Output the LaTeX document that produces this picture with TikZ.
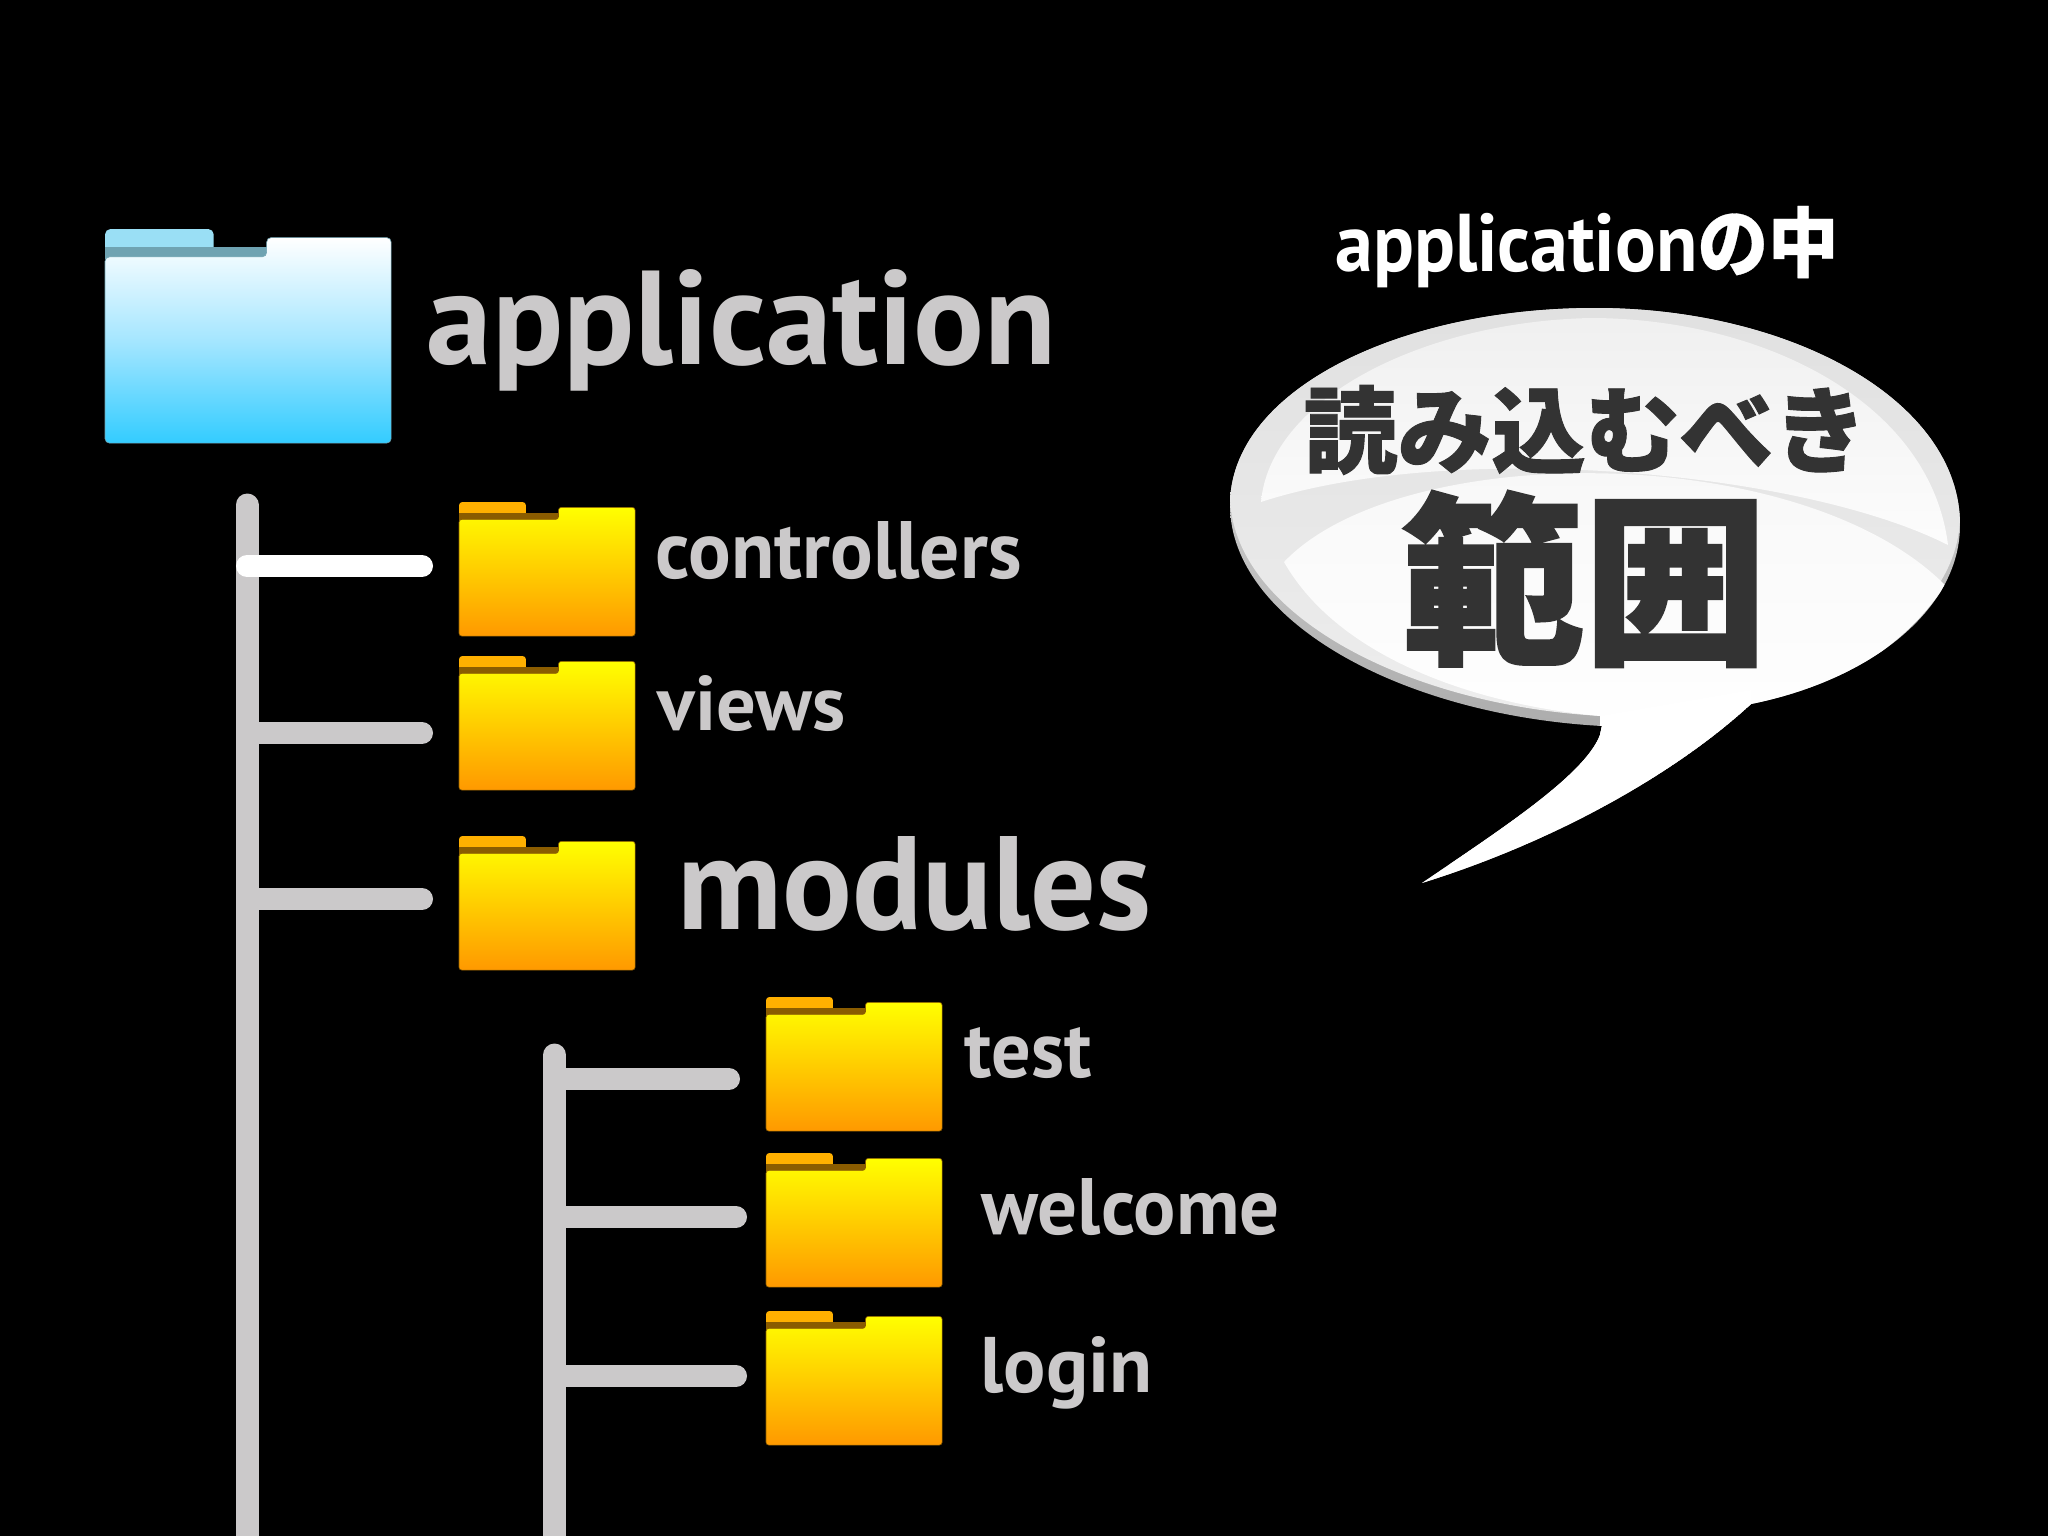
\documentclass[tikz,border=0pt]{standalone}
\usepackage{fontspec}
\usepackage{graphicx}
\setmainfont{PT Sans}
\newfontfamily\jpfont[BoldFeatures={FakeBold=1.0}]{Noto Sans CJK JP}
\newfontfamily\jpheavy[BoldFeatures={FakeBold=1.5}]{Noto Sans CJK JP}
\newfontfamily\jplight[BoldFeatures={FakeBold=0.4}]{Noto Sans CJK JP}
\newlength\px
\setlength\px{0.01cm}

\definecolor{lblgrey}{HTML}{CBC9CA}
\definecolor{bardark}{HTML}{333333}
\definecolor{ytab}{HTML}{FFB000}
\definecolor{ydark}{HTML}{8A5C00}
\definecolor{ytop}{HTML}{FFFF00}
\definecolor{ymid}{HTML}{FFCC00}
\definecolor{ybot}{HTML}{FF9900}
\definecolor{btab}{HTML}{9ADFF5}
\definecolor{bdark}{HTML}{6FA3B2}
\definecolor{btop}{HTML}{FFFFFF}
\definecolor{bmid}{HTML}{A5E6FF}
\definecolor{bbot}{HTML}{33CCFF}

\tikzset{
  lbl/.style={anchor=base west,inner sep=0pt,text=lblgrey,font=\bfseries},
  bartrunk/.style={line width=23\px,draw=lblgrey,line cap=round},
  barbranch/.style={line width=22\px,draw=lblgrey,line cap=round},
  bubbletext/.style={inner sep=0pt,text=bardark},
}

% folder: name, left, top, width, height, colour prefix
\newcommand\folder[6]{%
  \coordinate (#1) at (#2,#3);
  \begin{scope}[shift={(#1)},x={#4*0.28453pt/100},y={-#5*0.28453pt/100}]
    \fill[#6tab,rounded corners={#4*0.0055pt}] (0,13) -- (0,0) -- (38,0) -- (38,13) -- cycle;
    \fill[#6dark] (0,8.5) rectangle (57,14);
    \shadedraw[draw=#6dark,line width=0.6\px,rounded corners={#4*0.0045pt},
      top color=#6top,bottom color=#6bot,middle color=#6mid]
      (0,100) -- (0,13) -- (56.5,13) -- (56.5,4) -- (100,4) -- (100,100) -- cycle;
  \end{scope}
}

\newcommand\bubblepath{(1751,704) .. controls (1870,680) and (1960,610) .. (1960,525)
  .. controls (1960,400) and (1790,308) .. (1595,308)
  .. controls (1400,308) and (1230,390) .. (1230,505)
  .. controls (1230,620) and (1400,715) .. (1602,726)
  -- (1600,735)
  .. controls (1585,775) and (1500,830) .. (1422,883)
  .. controls (1560,840) and (1680,770) .. (1751,704) -- cycle}

\begin{document}
\begin{tikzpicture}[x=0.01cm,y=-0.01cm]

    \clip (0,0) rectangle (2048,1536);
    \fill[black] (0,0) rectangle (2048,1536);

    % the folders
    \folder{application}{105}{229}{286}{214}{b}
    \folder{controllers}{459}{502}{176}{134}{y}
    \folder{views}{459}{656}{176}{134}{y}
    \folder{modules}{459}{836}{176}{134}{y}
    \folder{test}{766}{997}{176}{134}{y}
    \folder{welcome}{766}{1153}{176}{134}{y}
    \folder{login}{766}{1311}{176}{134}{y}

    % the tree
    \coordinate (mainTop) at (247,505);
    \coordinate (mainEnd) at (247,1560);
    \coordinate (subTop) at (554.5,1055);
    \coordinate (subEnd) at (554.5,1560);
    \coordinate (controllersEnd) at (422,566);
    \coordinate (viewsEnd) at (422,733);
    \coordinate (modulesEnd) at (422,899);
    \coordinate (testEnd) at (729,1079);
    \coordinate (welcomeEnd) at (736,1217);
    \coordinate (loginEnd) at (736,1376);

    \draw[bartrunk] (mainTop) -- (mainEnd);
    \draw[bartrunk] (subTop) -- (subEnd);
    \draw[barbranch] (mainTop |- viewsEnd) -- (viewsEnd);
    \draw[barbranch] (mainTop |- modulesEnd) -- (modulesEnd);
    \draw[barbranch] (subTop |- testEnd) -- (testEnd);
    \draw[barbranch] (subTop |- welcomeEnd) -- (welcomeEnd);
    \draw[barbranch] (subTop |- loginEnd) -- (loginEnd);
    \draw[barbranch,draw=white] (mainTop |- controllersEnd) -- (controllersEnd);

    % the labels
    \node[lbl] (applicationLbl) at (426,364) {\resizebox{630\px}{95\px}{application}};
    \node[lbl] (controllersLbl) at (655,578) {\resizebox{366\px}{57\px}{controllers}};
    \node[lbl] (viewsLbl) at (657,730) {\resizebox{188\px}{55\px}{views}};
    \node[lbl] (modulesLbl) at (677,929) {\resizebox{474\px}{93\px}{modules}};
    \node[lbl] (testLbl) at (964,1077) {\resizebox{127\px}{50\px}{test}};
    \node[lbl] (welcomeLbl) at (981,1234) {\resizebox{298\px}{56\px}{welcome}};
    \node[lbl] (loginLbl) at (980,1392) {\resizebox{172\px}{56\px}{login}};

    % the balloon
    \shade[top color=black!12,bottom color=black!40] \bubblepath;
    \begin{scope}
      \clip \bubblepath;
      \shade[yshift=10\px,top color=black!12,bottom color=black!5] \bubblepath;
      % the lower gloss
      \shade[top color=black!3,bottom color=white]
        (1284,562) .. controls (1340,660) and (1480,705) .. (1600,716)
        -- (1600,740) -- (1780,700)
        .. controls (1850,680) and (1910,640) .. (1945,585)
        .. controls (1800,440) and (1400,440) .. (1284,562) -- cycle;
      % the upper gloss
      \shade[top color=black!6,bottom color=black!1]
        (1261,502) .. controls (1270,400) and (1420,322) .. (1590,318)
        .. controls (1760,318) and (1930,400) .. (1948,545)
        .. controls (1800,470) and (1450,440) .. (1261,502) -- cycle;
      % the tail stays white
      \fill[white] (1600,716) -- (1600,735)
        .. controls (1585,775) and (1500,830) .. (1422,883)
        .. controls (1560,840) and (1680,770) .. (1751,704) -- (1751,690) -- cycle;
    \end{scope}

    \node[anchor=base,inner sep=0pt,text=white,font=\bfseries] (rangeTitle) at (1587,271)
      {\resizebox{503\px}{65\px}{\fontsize{14}{14}\selectfont application\jplight\fontsize{13}{14}\selectfont の中}};
    \node[bubbletext] (readText) at (1585.5,430)
      {\fontsize{26.7}{30}\selectfont\jpfont\bfseries 読み込むべき};
    \node[bubbletext] (rangeText) at (1584,579)
      {\fontsize{52}{56}\selectfont\jpheavy\bfseries 範囲};

\end{tikzpicture}
\end{document}
